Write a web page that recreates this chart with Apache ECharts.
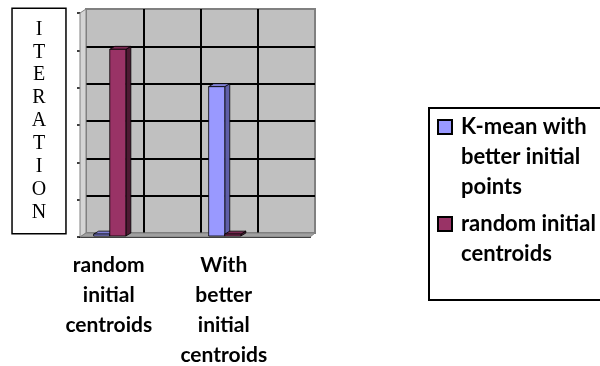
<!DOCTYPE html>
<html>
<head>
<meta charset="utf-8">
<title>Iteration chart</title>
<script src="https://cdn.jsdelivr.net/npm/echarts@6/dist/echarts.min.js"></script>
<style>
  html, body { margin: 0; padding: 0; background: #fff; }
  #chart { width: 600px; height: 366px; }
</style>
</head>
<body>
<div id="chart"></div>
<script>
// x categories (2nd and 4th slots carry no label in the original)
var categories = ['random initial centroids', '', 'With better initial centroids', ''];
var seriesNames = ['K-mean with\nbetter initial\npoints', 'random initial\ncentroids'];
// iterations, read off the gridlines (the axis shows no numbers)
var kmeanBetter = [0.05, null, 4, null];
var randomInit = [5, null, 0.05, null];
var yMax = 6;
var yStep = 1;

(function () {
  var myChart = echarts.init(document.getElementById('chart'));
  var font = 'Lato, "Open Sans", sans-serif';
  // front face, side face, top face
  var shades = [
    ['#9999FF', '#5F5FA8', '#8080D6'],
    ['#993366', '#4D1A33', '#7A2952']
  ];

  function toData(values) {
    var out = [];
    values.forEach(function (v, i) { if (v != null) out.push([i, v]); });
    return out;
  }

  // fake 3d column: front rect + side + top
  function renderBar(params, api) {
    var base = api.coord([api.value(0), 0]);
    var top = api.coord([api.value(0), api.value(1)]);
    var w = api.size([1, 0])[0] * 0.28;
    var s = params.seriesIndex;
    var x0 = base[0] - w + s * w + 1;
    var x1 = x0 + w;
    var yb = base[1] - 1, yt = top[1] - 1;
    var dx = 5, dy = -3;
    var c = shades[s];
    return {
      type: 'group',
      children: [
        { type: 'polygon', shape: { points: [[x1, yb], [x1 + dx, yb + dy], [x1 + dx, yt + dy], [x1, yt]] },
          style: { fill: c[1], stroke: '#000', lineWidth: 0.8 } },
        { type: 'polygon', shape: { points: [[x0, yt], [x0 + dx, yt + dy], [x1 + dx, yt + dy], [x1, yt]] },
          style: { fill: c[2], stroke: '#000', lineWidth: 0.8 } },
        { type: 'rect', shape: { x: x0, y: yt, width: w, height: yb - yt },
          style: { fill: c[0], stroke: '#000', lineWidth: 0.8 } }
      ]
    };
  }

  // icon sits next to the first line: pad the text with blank lines above
  function legendLabel(name) {
    var n = name.split('\n').length - 1;
    return new Array(n + 1).join('\n') + name;
  }

  var legendBase = {
    orient: 'vertical', left: 437, padding: 0, icon: 'rect', selectedMode: false,
    itemWidth: 14, itemHeight: 14,
    itemStyle: { borderColor: '#000', borderWidth: 2 },
    formatter: legendLabel,
    textStyle: { color: '#000', fontFamily: font, fontWeight: 'bold', fontSize: 22, lineHeight: 30, padding: [0, 0, 0, 4] }
  };

  var option = {
    animation: false,
    grid: [
      { left: 86, top: 9, width: 229, height: 224, show: true, outerBoundsMode: 'none',
        backgroundColor: '#C0C0C0', borderColor: '#808080', borderWidth: 2 },
      { left: 80, top: 13, width: 230, height: 224, outerBoundsMode: 'none' }
    ],
    xAxis: [
      {
        // back wall: one vertical gridline per category boundary
        type: 'value', gridIndex: 0, min: 0, max: categories.length, interval: 1,
        axisLine: { show: false }, axisTick: { show: false }, axisLabel: { show: false },
        splitLine: { show: true, showMinLine: false, showMaxLine: false, lineStyle: { color: '#000', width: 2 } }
      },
      {
        type: 'category', gridIndex: 1, data: categories,
        axisLine: { lineStyle: { color: '#000', width: 2 } },
        axisTick: { length: 5, lineStyle: { color: '#000', width: 1.5 } },
        axisLabel: {
          margin: 13, interval: 0, color: '#000', fontFamily: font, fontWeight: 'bold',
          fontSize: 21, lineHeight: 30,
          formatter: function (v) { return v.split(' ').join('\n'); }
        }
      }
    ],
    yAxis: [
      {
        type: 'value', gridIndex: 0, min: 0, max: yMax, interval: yStep,
        axisLine: { show: false }, axisTick: { show: false }, axisLabel: { show: false },
        splitLine: { show: true, showMinLine: false, showMaxLine: false, lineStyle: { color: '#000', width: 2 } },
        name: 'ITERATION'.split('').join('\n'),
        nameLocation: 'middle', nameRotate: 0, nameGap: 47,
        nameTextStyle: {
          fontFamily: '"Liberation Serif", "DejaVu Serif", serif', fontSize: 20, lineHeight: 22.9,
          color: '#000', align: 'center', verticalAlign: 'middle', width: 14,
          padding: [13, 19, 5, 19], borderColor: '#000', borderWidth: 1.5, backgroundColor: '#fff'
        }
      },
      {
        type: 'value', gridIndex: 1, min: 0, max: yMax, interval: yStep,
        axisLine: { show: true, lineStyle: { color: '#808080', width: 1 } },
        axisTick: { show: true, length: 3, lineStyle: { color: '#000', width: 1.5 } },
        axisLabel: { show: false }, splitLine: { show: false }
      }
    ],
    legend: [
      Object.assign({}, legendBase, { top: 52, data: [seriesNames[0]] }),
      Object.assign({}, legendBase, { top: 179, data: [seriesNames[1]] })
    ],
    graphic: [
      { type: 'polygon', z: 1, shape: { points: [[80, 13], [86, 9], [86, 233], [80, 237]] },
        style: { fill: '#D4D4D4', stroke: '#808080', lineWidth: 1 } },
      { type: 'polygon', z: 1, shape: { points: [[80, 237], [86, 233], [315, 233], [310, 237]] },
        style: { fill: '#A0A0A0', stroke: '#808080', lineWidth: 1 } },
      { type: 'rect', z: 0, shape: { x: 429, y: 108, width: 200, height: 192 },
        style: { fill: '#fff', stroke: '#000', lineWidth: 2 } }
    ],
    series: [
      {
        name: seriesNames[0], type: 'custom', xAxisIndex: 1, yAxisIndex: 1,
        renderItem: renderBar, itemStyle: { color: shades[0][0] },
        encode: { x: 0, y: 1 }, data: toData(kmeanBetter)
      },
      {
        name: seriesNames[1], type: 'custom', xAxisIndex: 1, yAxisIndex: 1,
        renderItem: renderBar, itemStyle: { color: shades[1][0] },
        encode: { x: 0, y: 1 }, data: toData(randomInit)
      }
    ]
  };

  option && myChart.setOption(option);
})();
</script>
</body>
</html>
